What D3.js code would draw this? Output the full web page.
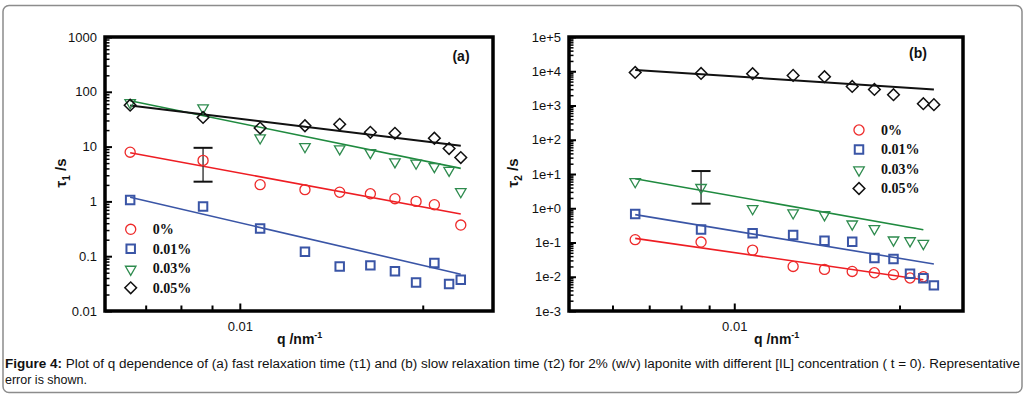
<!DOCTYPE html>
<html>
<head>
<meta charset="utf-8">
<script src="https://cdn.jsdelivr.net/npm/d3@7"></script>
<style>
  body { margin: 0; background: #fff; }
  svg { display: block; }
</style>
</head>
<body>
<div id="chart"></div>
<script>
// q values (nm^-1) shared by both panels
const qValues = [0.0066, 0.0087, 0.0108, 0.0128, 0.0146, 0.0164, 0.0180, 0.0195, 0.0209, 0.0221, 0.0231];
const seriesNames = ["0%", "0.01%", "0.03%", "0.05%"];

// panel (a): tau1 / s
const tau1_0   = [7.9, 5.6, 2.02, 1.64, 1.47, 1.38, 1.12, 1.0, 0.87, null, 0.37];
const tau1_001 = [1.06, 0.81, 0.32, 0.121, 0.065, 0.068, 0.053, 0.033, 0.075, 0.031, 0.037];
const tau1_003 = [66, 53, 15, 10.4, 9.5, 8.1, 5.5, 5.2, 4.5, 3.85, 1.57];
const tau1_005 = [57, 34, 21.8, 24, 25.5, 18.2, 17.5, null, 14.2, 9.2, 6.3];
// fit lines: [q start, q end], [tau start, tau end]
const fit1Q    = [[0.0066, 0.0231], [0.0066, 0.0231], [0.0066, 0.0231], [0.0066, 0.0231]];
const fit1Tau  = [[7.75, 0.59], [1.19, 0.047], [68.9, 4.0], [56, 10.4]];
const err1     = [0.0087, 2.29, 9.5];

// panel (b): tau2 / s
const tau2_0   = [0.121, 0.103, 0.060, 0.020, 0.0164, 0.0143, 0.0131, 0.0115, 0.0092, 0.010, null];
const tau2_001 = [0.68, 0.24, 0.185, 0.166, 0.113, 0.105, 0.035, 0.033, 0.0123, 0.0090, 0.0056];
const tau2_003 = [6.4, 4.3, 1.04, 0.78, 0.69, 0.37, 0.27, 0.126, 0.12, 0.10, null];
const tau2_005 = [9250, 8650, 8470, 7570, 6930, 3610, 2950, 2070, null, 1130, 1060];
const fit2Q    = [[0.0066, 0.0221], [0.0066, 0.0231], [0.0066, 0.0221], [0.0066, 0.0231]];
const fit2Tau  = [[0.132, 0.0082], [0.65, 0.0236], [7.3, 0.237], [10900, 2950]];
const err2     = [0.0087, 1.36, 12.2];

// ticks
const yTicks1 = [0.01, 0.1, 1, 10, 100, 1000];
const yLabels1 = ["0.01", "0.1", "1", "10", "100", "1000"];
const yTicks2 = [1e-3, 1e-2, 1e-1, 1, 1e1, 1e2, 1e3, 1e4, 1e5];
const yLabels2 = ["1e-3", "1e-2", "1e-1", "1e+0", "1e+1", "1e+2", "1e+3", "1e+4", "1e+5"];
const xMinorTicks = [0.005, 0.006, 0.007, 0.008, 0.009, 0.02];
const xMajorTicks = [0.01];

const colors = ["#ee2a2a", "#3a55a6", "#2e8b4e", "#111111"];
const lineColors = ["#ee1d23", "#3a55a6", "#1f8a3f", "#111111"];

const width = 1028, height = 399;
const svg = d3.select("#chart").append("svg")
    .attr("width", width)
    .attr("height", height)
    .style("font-family", "'Liberation Sans', Arial, sans-serif");

// outer rounded box
svg.append("rect")
    .attr("x", 3).attr("y", 5.5)
    .attr("width", 1019).attr("height", 387)
    .attr("rx", 6)
    .attr("fill", "none")
    .attr("stroke", "#8c8c8c")
    .attr("stroke-width", 1.5);

function minorTicks(lo, hi) {
    const out = [];
    for (let e = Math.round(Math.log10(lo)); e < Math.round(Math.log10(hi)); e++) {
        for (let k = 2; k <= 9; k++) out.push(k * Math.pow(10, e));
    }
    return out;
}

function markerPath(i) {
    if (i === 0) return d3.symbol().type(d3.symbolCircle).size(80)();
    if (i === 1) return d3.symbol().type(d3.symbolSquare).size(72)();
    if (i === 2) return d3.symbol().type(d3.symbolTriangle).size(48)();
    return d3.symbol().type(d3.symbolSquare).size(68)();
}
function markerTransform(i, x, y) {
    if (i === 2) return `translate(${x},${y + 1}) rotate(180)`;
    if (i === 3) return `translate(${x},${y}) rotate(45)`;
    return `translate(${x},${y})`;
}
const markerStroke = [1.3, 2, 1.3, 1.5];

function drawPanel(p) {
    const x = d3.scaleLog().domain(p.xDomain).range([p.left, p.right]);
    const y = d3.scaleLog().domain(p.yDomain).range([p.bottom, p.top]);
    const g = svg.append("g");

    // y axis major
    g.append("g")
        .attr("transform", `translate(${p.left},0)`)
        .call(d3.axisLeft(y).tickValues(p.yTicks).tickSize(-7).tickPadding(8)
            .tickFormat((d, i) => p.yLabels[i]))
        .call(a => a.select(".domain").remove())
        .call(a => a.selectAll("line").attr("stroke", "#000").attr("stroke-width", 2))
        .call(a => a.selectAll("text").attr("fill", "#111").style("font-size", "13px")
            .style("font-family", "'Liberation Sans', Arial, sans-serif"));
    // y axis minor
    g.append("g")
        .attr("transform", `translate(${p.left},0)`)
        .call(d3.axisLeft(y).tickValues(minorTicks(p.yDomain[0], p.yDomain[1])).tickSize(-4.5).tickFormat(""))
        .call(a => a.select(".domain").remove())
        .call(a => a.selectAll("line").attr("stroke", "#000").attr("stroke-width", 1.5));

    // x axis
    const xMinor = xMinorTicks.filter(v => v > p.xDomain[0] && v < p.xDomain[1]);
    g.append("g")
        .attr("transform", `translate(0,${p.bottom})`)
        .call(d3.axisBottom(x).tickValues(xMinor).tickSize(-5.5).tickFormat(""))
        .call(a => a.select(".domain").remove())
        .call(a => a.selectAll("line").attr("stroke", "#000").attr("stroke-width", 2));
    g.append("g")
        .attr("transform", `translate(0,${p.bottom})`)
        .call(d3.axisBottom(x).tickValues(xMajorTicks).tickSize(-7.5).tickPadding(11).tickFormat(d3.format(".2f")))
        .call(a => a.select(".domain").remove())
        .call(a => a.selectAll("line").attr("stroke", "#000").attr("stroke-width", 2))
        .call(a => a.selectAll("text").attr("fill", "#111").style("font-size", "13px")
            .style("font-family", "'Liberation Sans', Arial, sans-serif"));

    // fit lines
    p.fitQ.forEach((qq, i) => {
        g.append("line")
            .attr("x1", x(qq[0])).attr("y1", y(p.fitTau[i][0]))
            .attr("x2", x(qq[1])).attr("y2", y(p.fitTau[i][1]))
            .attr("stroke", lineColors[i])
            .attr("stroke-width", i === 3 ? 2 : 1.6);
    });

    // error bar
    const ex = x(p.err[0]);
    g.append("line")
        .attr("x1", ex).attr("x2", ex)
        .attr("y1", y(p.err[1])).attr("y2", y(p.err[2]))
        .attr("stroke", "#444").attr("stroke-width", 1.5);
    [p.err[1], p.err[2]].forEach(v => {
        g.append("line")
            .attr("x1", ex - 9.5).attr("x2", ex + 9.5)
            .attr("y1", y(v)).attr("y2", y(v))
            .attr("stroke", "#111").attr("stroke-width", 2);
    });

    // markers
    p.series.forEach((vals, i) => {
        const pts = qValues.map((q, j) => ({ q, v: vals[j] })).filter(d => d.v != null);
        g.selectAll(null)
            .data(pts)
            .enter()
            .append("path")
            .attr("d", markerPath(i))
            .attr("transform", d => markerTransform(i, x(d.q), y(d.v)))
            .attr("fill", "none")
            .attr("stroke", colors[i])
            .attr("stroke-width", markerStroke[i]);
    });

    // frame
    g.append("rect")
        .attr("x", p.left).attr("y", p.top)
        .attr("width", p.right - p.left).attr("height", p.bottom - p.top)
        .attr("fill", "none")
        .attr("stroke", "#000")
        .attr("stroke-width", 3.5);

    // panel letter
    g.append("text")
        .attr("x", p.tag[1]).attr("y", p.tag[2])
        .attr("text-anchor", "middle")
        .attr("dy", "0.35em")
        .style("font-size", "14px")
        .style("font-weight", "bold")
        .attr("fill", "#111")
        .text(p.tag[0]);

    // legend
    seriesNames.forEach((name, i) => {
        const ly = p.legend[1] + i * 19.5;
        g.append("path")
            .attr("d", markerPath(i))
            .attr("transform", markerTransform(i, p.legend[0], ly))
            .attr("fill", "none")
            .attr("stroke", colors[i])
            .attr("stroke-width", markerStroke[i]);
        g.append("text")
            .attr("x", p.legend[0] + 22).attr("y", ly)
            .attr("dy", "0.35em")
            .style("font-family", "'Liberation Serif', 'Times New Roman', serif")
            .style("font-size", "14px")
            .style("font-weight", "bold")
            .attr("fill", "#111")
            .text(name);
    });

    // y title
    const yt = g.append("text")
        .attr("transform", `translate(${p.yTitleX},173) rotate(-90)`)
        .attr("text-anchor", "middle")
        .style("font-size", "15px")
        .style("font-weight", "bold")
        .attr("fill", "#111");
    yt.append("tspan").text("\u03c4");
    yt.append("tspan").attr("dy", 4).style("font-size", "10px").text(p.sub);
    yt.append("tspan").attr("dy", -4).text(" /s");

    // x title
    const xt = g.append("text")
        .attr("x", p.xTitleX).attr("y", 344)
        .style("font-size", "14px")
        .style("font-weight", "bold")
        .attr("fill", "#111");
    xt.append("tspan").text("q /nm");
    xt.append("tspan").attr("dy", -6).style("font-size", "9px").text("-1");
}

drawPanel({
    left: 105, right: 493, top: 37, bottom: 311,
    xDomain: [0.006, 0.0261], yDomain: [0.01, 1000],
    yTicks: yTicks1, yLabels: yLabels1,
    series: [tau1_0, tau1_001, tau1_003, tau1_005],
    fitQ: fit1Q, fitTau: fit1Tau, err: err1,
    tag: ["(a)", 461, 56], legend: [130.7, 229.3],
    yTitleX: 66, sub: "1", xTitleX: 277
});

drawPanel({
    left: 569, right: 963, top: 37, bottom: 311,
    xDomain: [0.005, 0.0261], yDomain: [1e-3, 1e5],
    yTicks: yTicks2, yLabels: yLabels2,
    series: [tau2_0, tau2_001, tau2_003, tau2_005],
    fitQ: fit2Q, fitTau: fit2Tau, err: err2,
    tag: ["(b)", 918, 53.5], legend: [859, 130],
    yTitleX: 518, sub: "2", xTitleX: 754
});

// caption
const cap = svg.append("text")
    .attr("x", 5).attr("y", 368)
    .attr("textLength", 1015)
    .attr("lengthAdjust", "spacingAndGlyphs")
    .style("font-size", "12.5px")
    .attr("fill", "#111");
cap.append("tspan").style("font-weight", "bold").text("Figure 4:");
cap.append("tspan").text(" Plot of q dependence of (a) fast relaxation time (\u03c41) and (b) slow relaxation time (\u03c42) for 2% (w/v) laponite with different [IL] concentration ( t = 0). Representative");
svg.append("text")
    .attr("x", 5).attr("y", 384)
    .style("font-size", "12.5px")
    .attr("fill", "#111")
    .text("error is shown.");
</script>
</body>
</html>
